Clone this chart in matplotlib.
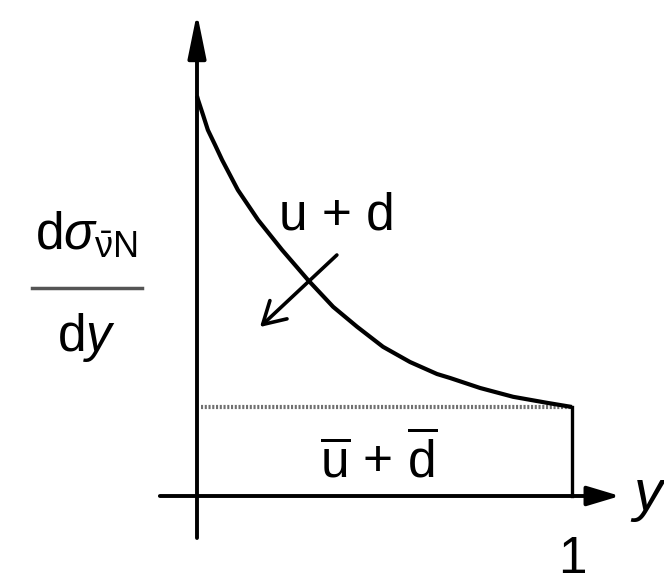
import matplotlib
matplotlib.use("Agg")
import matplotlib.pyplot as plt
import numpy as np

plt.rcParams['font.family'] = ['Liberation Sans', 'DejaVu Sans']
plt.rcParams['mathtext.fontset'] = 'custom'
plt.rcParams['mathtext.rm'] = 'Liberation Sans'
plt.rcParams['mathtext.it'] = 'Liberation Sans:italic'
plt.rcParams['mathtext.bf'] = 'Liberation Sans:bold'

# inelasticity y and the quark part of the cross-section (top curve)
y_vals = [0.0, 0.003, 0.016, 0.029, 0.048, 0.067, 0.109, 0.163, 0.227,
          0.296, 0.363, 0.427, 0.496, 0.568, 0.640, 0.675, 0.755, 0.843,
          0.933, 1.0]
dsigma = [1.0, 0.99, 0.953, 0.915, 0.878, 0.84, 0.765, 0.69, 0.615,
          0.54, 0.473, 0.423, 0.373, 0.335, 0.305, 0.295, 0.27, 0.248,
          0.233, 0.2225]
# flat antiquark level
antiquark_level = 0.2225
y_max = 1.0

quark_label = "u + d"
antiquark_label = r"$\overline{\mathrm{u}}$ + $\overline{\mathrm{d}}$"
tick_label = "1"

fig = plt.figure(figsize=(6.64, 5.83), dpi=100)
ax = fig.add_axes([0, 0, 1, 1])
ax.set_xlim(-0.5253, 1.2453)
ax.set_ylim(-0.2175, 1.24)
ax.axis('off')

# axes with arrow heads
ax.annotate('', xy=(0, 1.2075), xytext=(0, -0.105),
            arrowprops=dict(arrowstyle='-|>,head_length=2.7,head_width=0.55',
                            mutation_scale=10, lw=2.8, color='black',
                            shrinkA=0, shrinkB=0))
ax.annotate('', xy=(1.128, 0), xytext=(-0.099, 0),
            arrowprops=dict(arrowstyle='-|>,head_length=2.0,head_width=0.6',
                            mutation_scale=10, lw=2.8, color='black',
                            shrinkA=0, shrinkB=0))

# curve, antiquark level and right edge at y = 1
ax.plot(y_vals, dsigma, color='black', lw=3, solid_joinstyle='round',
        solid_capstyle='butt', zorder=3)
ax.plot([0.01, y_max], [antiquark_level, antiquark_level], color='#707070',
        lw=3, linestyle=(0, (0.5, 0.4)), zorder=2)
ax.plot([y_max, y_max], [0, antiquark_level], color='black', lw=2.4,
        solid_joinstyle='miter', zorder=3)

# labels
ax.text(0.373, 0.665, quark_label, fontsize=37, ha='center', va='baseline')
ax.annotate('', xy=(0.168, 0.4225), xytext=(0.373, 0.6025),
            arrowprops=dict(arrowstyle='->,head_length=1.3,head_width=0.75',
                            mutation_scale=12, lw=2.6, color='black',
                            shrinkA=0, shrinkB=0))
ax.text(0.485, 0.0475, antiquark_label, fontsize=37, ha='center', va='baseline')
ax.text(y_max, -0.098, tick_label, fontsize=37, ha='center', va='top')
ax.text(1.163, -0.035, 'y', fontsize=42, style='italic', ha='left', va='baseline')

# y-axis label as a fraction
ax.text(-0.296, 0.615, r"$\mathrm{d}\mathit{\sigma}_{\bar{\mathrm{ν}}\mathrm{N}}$",
        fontsize=37, ha='center', va='baseline')
ax.plot([-0.44, -0.147], [0.52, 0.52], color='#555555', lw=2.5)
ax.text(-0.296, 0.362, r"$\mathrm{d}\mathit{y}$", fontsize=37,
        ha='center', va='baseline')

fig.savefig('out.png', dpi=100)
